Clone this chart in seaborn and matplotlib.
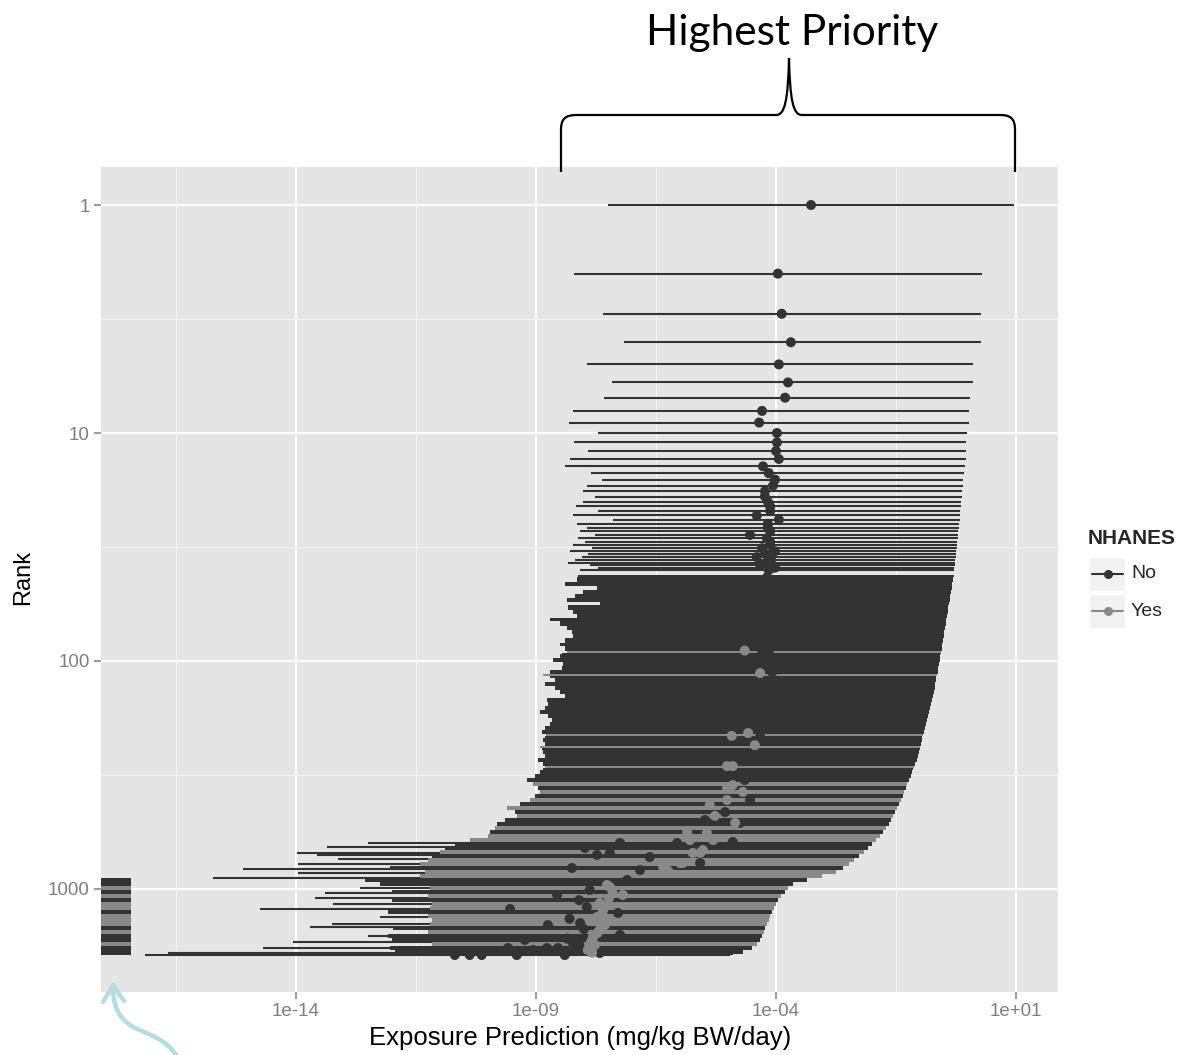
import numpy as np
import pandas as pd
import matplotlib
matplotlib.use("Agg")
import matplotlib.pyplot as plt
from matplotlib.patches import Rectangle, PathPatch
from matplotlib.path import Path
from matplotlib.lines import Line2D
from matplotlib.ticker import FixedLocator, NullFormatter
import seaborn as sns

sns.set_theme(style="white")
plt.rcParams["font.family"] = ["Liberation Sans", "DejaVu Sans"]

DARK = "#333333"
GREY = "#898989"
PANEL = "#E5E5E5"

# ---------------------------------------------------------------------------
# Exposure predictions, log10(mg/kg BW/day)
# Ranks 1-40: individually resolved chemicals (lower bound, median, upper bound)
# ---------------------------------------------------------------------------
top_rank = list(range(1, 41))
top_lower = [-7.50, -8.21, -7.60, -7.17, -7.94, -7.42, -7.58, -8.23, -8.31, -7.71,
             -8.21, -7.92, -8.29, -8.40, -7.85, -7.63, -7.94, -8.02, -7.77, -8.02,
             -8.17, -7.71, -8.23, -7.40, -8.15, -7.94, -8.08, -7.77, -8.13, -7.98,
             -8.23, -7.83, -8.29, -7.92, -8.04, -8.19, -8.33, -7.88, -7.71, -8.08]
top_median = [-3.27, -3.96, -3.88, -3.69, -3.94, -3.75, -3.81, -4.29, -4.35, -3.98,
              -3.98, -4.00, -3.94, -4.27, -4.15, -4.02, -4.06, -4.23, -4.23, -4.17,
              -4.12, -4.12, -4.40, -3.94, -4.17, -4.17, -4.12, -4.54, -4.19, -4.12,
              -4.12, -4.29, -4.02, -4.21, -4.40, -4.10, -4.19, -4.33, -4.02, -4.15]
top_upper = [0.96, 0.29, 0.27, 0.27, 0.10, 0.10, 0.04, 0.02, 0.02, -0.02,
             -0.04, -0.04, -0.04, -0.06, -0.08, -0.10, -0.10, -0.12, -0.12, -0.15,
             -0.15, -0.17, -0.17, -0.17, -0.19, -0.19, -0.21, -0.21, -0.21, -0.23,
             -0.23, -0.23, -0.25, -0.25, -0.25, -0.27, -0.27, -0.27, -0.29, -0.29]

# Densely packed chemicals below rank 40: each entry spans down to the next rank
band_rank = [42, 43, 45, 47, 49, 51, 53, 55,
             57, 60, 62, 65, 67, 70, 73, 76,
             79, 83, 86, 90, 92, 93, 97, 101, 105,
             110, 114, 116, 119, 124, 129, 134, 140, 145,
             151, 158, 164, 171, 178, 185, 193, 201,
             209, 213, 218, 227, 236, 241, 246, 256, 266, 277,
             289, 295, 301, 313, 326, 340, 353, 368, 383,
             399, 416, 433, 450, 469, 488, 508, 529,
             551, 574, 598, 622, 648, 675, 702, 731,
             762, 793, 826, 860, 895, 932, 971, 1010,
             1052, 1095, 1140, 1187, 1236, 1287, 1340, 1396,
             1453, 1513, 1576, 1641, 1708, 1778, 1852, 1928]
band_lower = [-8.13, -8.15, -8.40, -7.73, -8.02, -8.19, -8.35, -7.67,
              -8.33, -8.23, -8.15, -8.71, -8.50, -8.35, -8.25, -8.23,
              -8.40, -8.50, -8.40, -8.35, -8.45, -8.50, -8.65, -8.44, -8.46,
              -8.71, -8.85, -8.70, -8.60, -8.81, -8.60, -8.50, -8.40, -8.77,
              -8.75, -8.81, -8.92, -8.75, -8.67, -8.71, -8.81, -8.88,
              -8.79, -8.82, -8.85, -8.81, -8.92, -8.88, -8.85, -8.81, -8.96, -8.85,
              -8.81, -8.86, -8.92, -9.02, -9.19, -9.06, -8.96, -8.92, -9.02,
              -9.13, -9.33, -9.60, -9.44, -9.40, -9.65, -9.81, -9.85,
              -9.96, -10.00, -10.38, -10.69, -10.90, -11.00, -11.17, -11.25,
              -11.42, -12.04, -11.31, -11.42, -12.56, -12.25, -11.21, -12.00,
              -11.25, -12.00, -11.17, -11.21, -12.08, -11.25, -11.17, -11.21,
              -11.98, -11.25, -12.08, -12.00, -11.17, -12.04, -11.94, -11.83]
band_upper = [-0.29, -0.31, -0.33, -0.33, -0.35, -0.38, -0.38, -0.40,
              -0.42, -0.42, -0.44, -0.46, -0.46, -0.48, -0.50, -0.50,
              -0.52, -0.54, -0.54, -0.56, -0.57, -0.58, -0.58, -0.60, -0.63,
              -0.63, -0.65, -0.66, -0.67, -0.69, -0.69, -0.71, -0.73, -0.75,
              -0.77, -0.79, -0.81, -0.83, -0.85, -0.88, -0.90, -0.92,
              -0.94, -0.95, -0.96, -0.98, -1.00, -1.01, -1.02, -1.04, -1.06, -1.10,
              -1.13, -1.15, -1.17, -1.19, -1.23, -1.27, -1.29, -1.33, -1.35,
              -1.40, -1.44, -1.48, -1.52, -1.56, -1.60, -1.65, -1.71,
              -1.77, -1.83, -1.92, -2.00, -2.08, -2.17, -2.27, -2.38,
              -2.48, -2.60, -2.75, -3.04, -3.35, -3.65, -3.75, -3.81,
              -3.90, -3.96, -4.00, -4.04, -4.08, -4.13, -4.15, -4.19,
              -4.23, -4.25, -4.29, -4.33, -4.40, -4.50, -4.69, -4.90]
# NHANES flag per band entry (Y = measured in NHANES, N = not measured)
band_nhanes = ("NNNNNNNN" "NNNNNNNN" "NNNYNNNNN" "NYNNNNNNN"
               "NNNNNNNN" "YNNNYNNNNN" "YNNNNYNYN" "YNYNYNNY"
               "NYYNNYNY" "YNYYNNYN" "YNYYNYYY" "NYNNYNNN")
last_rank = 1950

# Chemicals with no lower bound: their ranges run off the left edge
lod_rank_min = 895
lod_upper = -17.44

# Long lower tails sticking out of the dense block (not in NHANES)
tail_rank = [628, 654, 695, 709, 739, 777, 817, 851, 895, 990, 1041,
             1095, 1164, 1224, 1327, 1424, 1468, 1607, 1708, 1815, 1909, 1948]
tail_lower = [-12.50, -13.35, -13.98, -13.56, -13.13, -13.96, -15.10, -13.96,
              -15.73, -12.67, -13.40, -13.60, -13.23, -14.75, -12.25, -13.25,
              -13.71, -12.50, -14.06, -14.69, -16.67, -17.15]
tail_upper = [-2.02, -2.10, -2.25, -2.30, -2.38, -2.50, -2.70, -2.95,
              -3.35, -3.78, -3.90, -3.96, -4.02, -4.08, -4.15, -4.21,
              -4.23, -4.31, -4.40, -4.60, -4.80, -4.95]

# Medians below rank 40
pt_no_rank = [43, 46, 48, 89, 92, 112, 215, 333, 407, 460, 498, 513, 622, 628,
              628, 661, 695, 709, 724, 769, 809, 826, 913, 1010, 1062, 1120,
              1199, 1224, 1274, 1350, 1410, 1439, 1500, 1591, 1650, 1673, 1725,
              1750, 1815, 1815, 1815, 1852, 1909, 1948, 1948, 1948, 1948, 1948]
pt_no_median = [-4.19, -4.31, -3.98, -4.30, -4.15, -4.08, -4.33, -4.65, -4.54,
                -5.06, -5.48, -4.75, -4.90, -6.06, -7.25, -7.98, -7.46, -7.73,
                -6.63, -5.58, -8.25, -6.83, -7.10, -7.88, -8.56, -8.10, -7.94,
                -9.54, -7.29, -8.30, -8.08, -8.75, -8.00, -7.25, -8.35, -9.23,
                -8.23, -8.10, -9.58, -8.77, -8.54, -9.06, -7.67, -9.40, -8.40,
                -10.69, -10.38, -10.13]
pt_yes_rank = [90, 113, 207, 213, 234, 289, 289, 350, 361, 375, 407, 428, 478,
               513, 562, 568, 610, 610, 675, 695, 695, 769, 769, 801, 826, 851,
               960, 980, 1041, 1062, 1100, 1152, 1236, 1280, 1327, 1390, 1439,
               1513, 1560, 1623, 1700, 1761, 1852, 1900]
pt_yes_median = [-4.65, -4.33, -4.58, -4.92, -4.44, -5.02, -4.90, -4.90, -5.02,
                 -4.69, -5.02, -5.38, -5.27, -4.85, -5.85, -5.44, -5.79, -5.31,
                 -5.52, -5.73, -5.58, -6.00, -5.94, -6.35, -6.27, -6.21, -7.52,
                 -7.46, -7.40, -7.19, -7.48, -7.67, -7.60, -7.62, -7.73, -7.70,
                 -7.56, -7.67, -7.72, -7.81, -7.85, -7.77, -7.92, -7.83]

# ---------------------------------------------------------------------------
W, H = 1177, 1055
fig = plt.figure(figsize=(W / 100, H / 100), dpi=100)
fig.patch.set_facecolor("white")
ax = fig.add_axes([101 / W, 1 - 992 / H, (1058 - 101) / W, (992 - 167) / H])
ax.set_facecolor(PANEL)
ax.set_xscale("log")
ax.set_yscale("log")
for sp in ax.spines.values():
    sp.set_visible(False)

colour = {"N": DARK, "Y": GREY}
band_lo = 10.0 ** np.array(band_lower)
band_hi = 10.0 ** np.array(band_upper)
band_next = np.array(band_rank[1:] + [last_rank])
band_h = band_next - np.array(band_rank)
band_col = [colour[c] for c in band_nhanes]

# long tails underneath the dense block
ax.hlines(tail_rank, 10.0 ** np.array(tail_lower), 10.0 ** np.array(tail_upper),
          color=DARK, lw=1.5, zorder=2)

# dense block
ax.barh(band_rank, band_hi - band_lo, left=band_lo, height=band_h, align="edge",
        color=band_col, linewidth=0, antialiased=False, zorder=2.1)

# chemicals without a lower bound
lod_idx = [i for i, r in enumerate(band_rank) if r >= lod_rank_min]
ax.barh([band_rank[i] for i in lod_idx], [10.0 ** lod_upper] * len(lod_idx), left=0,
        height=[band_h[i] for i in lod_idx], align="edge",
        color=[band_col[i] for i in lod_idx], linewidth=0, antialiased=False,
        zorder=2.1)

# individually resolved top chemicals
ax.hlines(top_rank, 10.0 ** np.array(top_lower), 10.0 ** np.array(top_upper),
          color=DARK, lw=1.5, zorder=2.2)

pts = pd.DataFrame({
    "rank": top_rank + pt_no_rank + pt_yes_rank,
    "median": 10.0 ** np.array(top_median + pt_no_median + pt_yes_median),
    "NHANES": ["No"] * (len(top_rank) + len(pt_no_rank)) + ["Yes"] * len(pt_yes_rank),
})
sns.scatterplot(data=pts, x="median", y="rank", hue="NHANES",
                palette={"No": DARK, "Yes": GREY}, hue_order=["No", "Yes"],
                s=52, linewidth=0, legend=False, ax=ax, zorder=3)

ax.set_xlim(10 ** -18.06, 10 ** 1.875)
ax.set_ylim(10 ** 3.4518, 10 ** -0.1667)

# ticks & grid
ax.xaxis.set_major_locator(FixedLocator([1e-14, 1e-9, 1e-4, 1e1]))
ax.xaxis.set_minor_locator(FixedLocator(10.0 ** np.array([-16.5, -11.5, -6.5, -1.5])))
ax.yaxis.set_major_locator(FixedLocator([1, 10, 100, 1000]))
ax.yaxis.set_minor_locator(FixedLocator(10.0 ** np.array([0.5, 1.5, 2.5])))
ax.set_xticklabels(["1e-14", "1e-09", "1e-04", "1e+01"])
ax.set_yticklabels(["1", "10", "100", "1000"])
ax.xaxis.set_minor_formatter(NullFormatter())
ax.yaxis.set_minor_formatter(NullFormatter())
ax.tick_params(which="major", length=5, width=1.1, color="#7F7F7F",
               labelcolor="#7F7F7F", labelsize=13.5, pad=3,
               bottom=True, left=True)
ax.tick_params(which="minor", length=0)
ax.grid(which="major", color="white", lw=1.6)
ax.grid(which="minor", color="#F2F2F2", lw=0.8)
ax.set_axisbelow(True)

ax.set_xlabel("Exposure Prediction (mg/kg BW/day)", fontsize=18.5, color="black")
ax.set_ylabel("Rank", fontsize=17, color="black")
ax.xaxis.set_label_coords(0.5005, -0.041)
ax.yaxis.set_label_coords(-0.070, 0.502)

# overlay in pixel coordinates for legend and annotations
ov = fig.add_axes([0, 0, 1, 1], zorder=10)
ov.set_xlim(0, W)
ov.set_ylim(H, 0)
ov.axis("off")
ov.patch.set_alpha(0)

ov.text(1088, 538, "NHANES", fontsize=15, fontweight="bold", ha="left", va="center")
for ky, lab, col in [(574, "No", DARK), (611, "Yes", GREY)]:
    ov.add_patch(Rectangle((1089, ky - 17), 36, 34, facecolor="#F2F2F2",
                           edgecolor="white", lw=1))
    ov.add_line(Line2D([1092, 1123], [ky, ky], color=col, lw=1.5))
    ov.plot([1107.5], [ky], "o", color=col, ms=6.5, mec="none")
    ov.text(1131, ky, lab, fontsize=14, ha="left", va="center")

# bracket marking the highest-priority chemicals
M, L, C = Path.MOVETO, Path.LINETO, Path.CURVE4
verts = [(561, 172), (561, 130),
         (561, 119), (565, 115), (577, 115),
         (776, 115),
         (785, 115), (788, 100), (789, 58),
         (790, 100), (793, 115), (802, 115),
         (1000, 115),
         (1011, 115), (1015, 119), (1015, 130),
         (1015, 172)]
codes = [M, L, C, C, C, L, C, C, C, C, C, C, L, C, C, C, L]
ov.add_patch(PathPatch(Path(verts, codes), facecolor="none", edgecolor="black", lw=1.6))
ov.text(792, 33, "Highest Priority", fontsize=30.5, family=["Lato", "DejaVu Sans"],
        ha="center", va="center", color="black")

# arrow pointing at the no-lower-bound block
teal = "#B3DDDF"
arrow = Path([(178, 1058), (168, 1040), (150, 1035), (135, 1028),
              (120, 1020), (113, 1008), (113, 987)],
             [M, C, C, C, C, C, C])
ov.add_patch(PathPatch(arrow, facecolor="none", edgecolor=teal, lw=3.2,
                       capstyle="round", joinstyle="round"))
ov.add_line(Line2D([103, 113, 124], [1002, 985, 1001], color=teal, lw=3.2,
                   solid_capstyle="round", solid_joinstyle="round"))

fig.savefig("out.png", dpi=100)
